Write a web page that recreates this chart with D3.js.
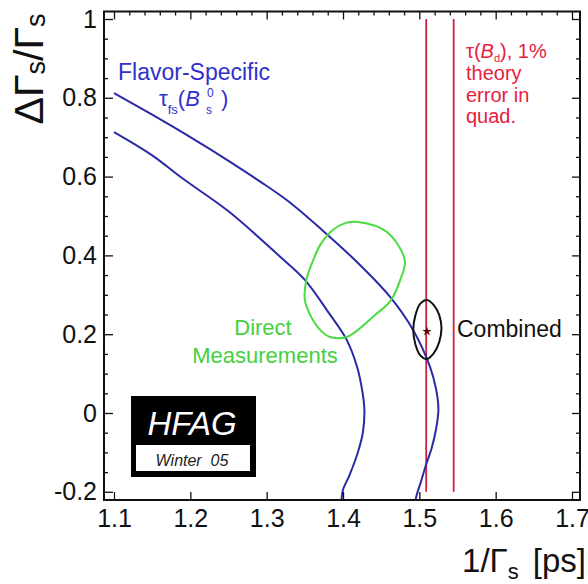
<!DOCTYPE html>
<html>
<head>
<meta charset="utf-8">
<script src="https://cdn.jsdelivr.net/npm/d3@7"></script>
<style>
  body { margin: 0; background: #fff; }
  svg { display: block; }
  text { font-family: "Liberation Sans", Arial, Helvetica, sans-serif; }
</style>
</head>
<body>
<svg id="chart" width="588" height="584"></svg>
<script>
// Axis ticks
const xTicks = [1.1, 1.2, 1.3, 1.4, 1.5, 1.6, 1.7];
const yTicks = [-0.2, 0, 0.2, 0.4, 0.6, 0.8, 1];
const xTopMinor = d3.range(110, 171, 2).map(v => v / 100);
const yMinor = d3.range(-20, 101, 5).map(v => v / 100);

// Flavor-specific lifetime constraint: outer and inner 1-sigma boundaries (1/Γs [ps], ΔΓs/Γs)
const fsOuter = [
  [1.100, 0.812], [1.150, 0.757], [1.200, 0.700], [1.250, 0.640], [1.291, 0.588],
  [1.330, 0.535], [1.374, 0.462], [1.420, 0.380], [1.462, 0.294], [1.492, 0.210],
  [1.514, 0.117], [1.522, 0.060], [1.525, 0.010], [1.522, -0.040], [1.516, -0.090],
  [1.509, -0.130], [1.502, -0.175], [1.497, -0.205], [1.495, -0.221]
];
const fsInner = [
  [1.100, 0.713], [1.150, 0.654], [1.190, 0.595], [1.250, 0.512], [1.318, 0.396],
  [1.350, 0.338], [1.380, 0.258], [1.405, 0.185], [1.418, 0.120], [1.424, 0.070],
  [1.428, 0.010], [1.426, -0.050], [1.421, -0.090], [1.416, -0.120], [1.408, -0.160],
  [1.400, -0.195], [1.398, -0.221]
];

// Direct measurements contour
const directContour = [
  [1.420, 0.485], [1.457, 0.460], [1.481, 0.388], [1.475, 0.338], [1.462, 0.284],
  [1.442, 0.249], [1.405, 0.193], [1.383, 0.193], [1.370, 0.211], [1.357, 0.249],
  [1.350, 0.287], [1.352, 0.338], [1.360, 0.383], [1.370, 0.426], [1.387, 0.465],
  [1.403, 0.482]
];

// Combined contour and best-fit point
const combinedContour = [
  [1.510, 0.287], [1.519, 0.274], [1.526, 0.249], [1.529, 0.216], [1.526, 0.180],
  [1.519, 0.152], [1.510, 0.137], [1.501, 0.147], [1.495, 0.173], [1.492, 0.211],
  [1.495, 0.249], [1.501, 0.277]
];
const combinedBest = [1.510, 0.207];

// τ(Bd) band with 1% theory error: boundaries in 1/Γs, drawn over the ΔΓs/Γs range
const bdBand = [1.509, 1.545];
const bdYRange = [-0.2, 1.0];

const svg = d3.select("#chart");
const frame = { left: 104, right: 580, top: 11.5, bottom: 500 };

const x = d3.scaleLinear().domain([1.1, 1.7]).range([114, 572]);
const y = d3.scaleLinear().domain([0, 1]).range([413, 19]);

const blue = "#2a2aa6", blueText = "#3030cc";
const red = "#cc1f3d", redText = "#e6213f";
const green = "#48dc40", greenText = "#45d03d";

svg.append("clipPath").attr("id", "plotClip").append("rect")
  .attr("x", frame.left).attr("y", frame.top)
  .attr("width", frame.right - frame.left).attr("height", frame.bottom - frame.top);

const plot = svg.append("g").attr("clip-path", "url(#plotClip)");
const line = d3.line().x(d => x(d[0])).y(d => y(d[1]));

// Red τ(Bd) band edges
bdBand.forEach(v => {
  plot.append("path")
    .attr("d", line([[v, bdYRange[0]], [v, bdYRange[1]]]))
    .attr("stroke", red).attr("stroke-width", 1.8).attr("fill", "none");
});

// Flavor-specific curves
[fsOuter, fsInner].forEach(pts => {
  plot.append("path")
    .attr("d", line.curve(d3.curveCatmullRom)(pts))
    .attr("stroke", blue).attr("stroke-width", 2).attr("fill", "none");
});

// Direct measurement contour
plot.append("path")
  .attr("d", d3.line().x(d => x(d[0])).y(d => y(d[1])).curve(d3.curveCatmullRomClosed)(directContour))
  .attr("stroke", green).attr("stroke-width", 2).attr("fill", "none");

// Combined contour
plot.append("path")
  .attr("d", d3.line().x(d => x(d[0])).y(d => y(d[1])).curve(d3.curveCatmullRomClosed)(combinedContour))
  .attr("stroke", "#111").attr("stroke-width", 2).attr("fill", "none");

plot.append("path")
  .attr("d", d3.symbol(d3.symbolStar, 28)())
  .attr("transform", `translate(${x(combinedBest[0])},${y(combinedBest[1])})`)
  .attr("fill", "#5a0a0a");

// Axes: ticks point inward
const fmt = d => (d === 0 ? "0" : d === 1 ? "1" : String(d));

const gBottom = svg.append("g").attr("transform", `translate(0,${frame.bottom})`)
  .call(d3.axisBottom(x).tickValues(xTicks).tickSize(-8).tickPadding(9).tickFormat(d3.format(".1f")));
const gLeft = svg.append("g").attr("transform", `translate(${frame.left},0)`)
  .call(d3.axisLeft(y).tickValues(yTicks).tickSize(-9).tickPadding(7).tickFormat(fmt));
const gLeftMinor = svg.append("g").attr("transform", `translate(${frame.left},0)`)
  .call(d3.axisLeft(y).tickValues(yMinor.filter(v => !yTicks.some(t => Math.abs(t - v) < 1e-9))).tickSize(-4).tickFormat(""));
const gTop = svg.append("g").attr("transform", `translate(0,${frame.top})`)
  .call(d3.axisTop(x).tickValues(xTicks).tickSize(-8).tickFormat(""));
const gTopMinor = svg.append("g").attr("transform", `translate(0,${frame.top})`)
  .call(d3.axisTop(x).tickValues(xTopMinor.filter(v => !xTicks.some(t => Math.abs(t - v) < 1e-9))).tickSize(-4).tickFormat(""));
const gRight = svg.append("g").attr("transform", `translate(${frame.right},0)`)
  .call(d3.axisRight(y).tickValues(yTicks).tickSize(-8).tickFormat(""));
const gRightMinor = svg.append("g").attr("transform", `translate(${frame.right},0)`)
  .call(d3.axisRight(y).tickValues(yMinor.filter(v => !yTicks.some(t => Math.abs(t - v) < 1e-9))).tickSize(-4).tickFormat(""));

[gBottom, gLeft, gLeftMinor, gTop, gTopMinor, gRight, gRightMinor].forEach(g => {
  g.select(".domain").remove();
  g.selectAll(".tick line").attr("stroke", "#111").attr("stroke-width", 1.3);
  g.selectAll(".tick text").attr("fill", "#111").attr("font-size", 25)
    .attr("font-family", "'Liberation Sans', Arial, sans-serif");
});

// Frame
svg.append("rect")
  .attr("x", frame.left).attr("y", frame.top)
  .attr("width", frame.right - frame.left).attr("height", frame.bottom - frame.top)
  .attr("fill", "none").attr("stroke", "#111").attr("stroke-width", 2);

// Axis titles
const yTitle = svg.append("text")
  .attr("transform", "translate(43,69) rotate(-90)")
  .attr("text-anchor", "middle").attr("fill", "#111").attr("font-size", 41);
yTitle.append("tspan").text("ΔΓ");
yTitle.append("tspan").attr("font-size", 27).attr("dy", 2).text("s");
yTitle.append("tspan").attr("dy", -2).text("/Γ");
yTitle.append("tspan").attr("font-size", 27).attr("dy", 2).text("s");

const xTitle = svg.append("text")
  .attr("x", 586).attr("y", 572).attr("text-anchor", "end")
  .attr("fill", "#111").attr("font-size", 33);
xTitle.append("tspan").text("1/Γ");
xTitle.append("tspan").attr("font-size", 22).attr("dy", 7).text("s");
xTitle.append("tspan").attr("dy", -7).attr("dx", 14).text("[ps]");

// Flavor-specific label
svg.append("text").attr("x", 118).attr("y", 80).attr("fill", blueText)
  .attr("font-size", 23).text("Flavor-Specific");
const fsLab = svg.append("text").attr("y", 106).attr("fill", blueText).attr("font-size", 22);
fsLab.append("tspan").attr("x", 159).text("τ");
fsLab.append("tspan").attr("font-size", 13).attr("dy", 8).text("fs");
fsLab.append("tspan").attr("dy", -8).text("(");
fsLab.append("tspan").attr("font-style", "italic").text("B");
svg.append("text").attr("x", 207).attr("y", 97).attr("fill", blueText).attr("font-size", 12).text("0");
svg.append("text").attr("x", 206).attr("y", 114).attr("fill", blueText).attr("font-size", 12).text("s");
svg.append("text").attr("x", 221).attr("y", 106).attr("fill", blueText).attr("font-size", 22).text(")");

// τ(Bd) label
const bdLab = svg.append("text").attr("y", 58).attr("fill", redText).attr("font-size", 20);
bdLab.append("tspan").attr("x", 466).text("τ(");
bdLab.append("tspan").attr("font-style", "italic").text("B");
bdLab.append("tspan").attr("font-size", 11).attr("dy", 4).text("d");
bdLab.append("tspan").attr("dy", -4).text("), 1%");
["theory", "error in", "quad."].forEach((t, i) => {
  svg.append("text").attr("x", 466).attr("y", 80 + i * 21.5)
    .attr("fill", redText).attr("font-size", 20).text(t);
});

// Direct measurements label
svg.append("text").attr("x", 263).attr("y", 335).attr("text-anchor", "middle")
  .attr("fill", greenText).attr("font-size", 22).text("Direct");
svg.append("text").attr("x", 265).attr("y", 363).attr("text-anchor", "middle")
  .attr("fill", greenText).attr("font-size", 22).text("Measurements");

// Combined label
svg.append("text").attr("x", 457).attr("y", 337).attr("fill", "#111")
  .attr("font-size", 23).text("Combined");

// HFAG badge
svg.append("rect").attr("x", 131).attr("y", 396).attr("width", 125).attr("height", 81).attr("fill", "#000");
svg.append("rect").attr("x", 136).attr("y", 445).attr("width", 114).attr("height", 26).attr("fill", "#fff");
svg.append("text").attr("x", 192).attr("y", 435).attr("text-anchor", "middle")
  .attr("fill", "#fff").attr("font-size", 33).attr("font-style", "italic").text("HFAG");
svg.append("text").attr("x", 192).attr("y", 466).attr("text-anchor", "middle")
  .attr("fill", "#222").attr("font-size", 16).attr("font-style", "italic")
  .style("white-space", "pre").text("Winter  05");
</script>
</body>
</html>
